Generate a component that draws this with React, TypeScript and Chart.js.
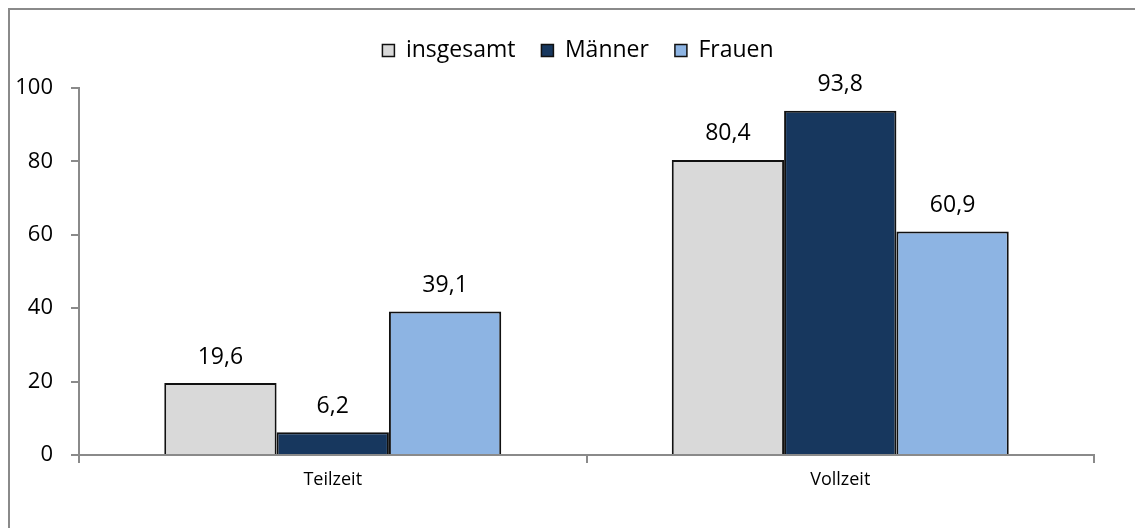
import React, { useEffect, useRef } from "react";
import { Chart, registerables } from "chart.js";

Chart.register(...registerables);

const categories = ["Teilzeit", "Vollzeit"];
const seriesNames = ["insgesamt", "Männer", "Frauen"];
const insgesamt = [19.6, 80.4];
const maenner = [6.2, 93.8];
const frauen = [39.1, 60.9];
const seriesColors = ["#D9D9D9", "#17375E", "#8DB4E3"];
const yTicks = [0, 20, 40, 60, 80, 100];

const FONT = "'Open Sans', sans-serif";
const AXIS = "#8a8a8a";

const valueLabels = {
  id: "valueLabels",
  afterDatasetsDraw(chart: any) {
    const ctx = chart.ctx;
    ctx.save();
    ctx.fillStyle = "#000";
    ctx.font = `23px ${FONT}`;
    ctx.textAlign = "center";
    ctx.textBaseline = "middle";
    chart.data.datasets.forEach((ds: any, i: number) => {
      const meta = chart.getDatasetMeta(i);
      meta.data.forEach((bar: any, j: number) => {
        const v = ds.data[j];
        ctx.fillText(String(v).replace(".", ","), bar.x, bar.y - 26);
      });
    });
    ctx.restore();
  },
};

const legendMargin = {
  id: "legendMargin",
  beforeInit(chart: any) {
    const lg = chart.legend;
    if (!lg) return;
    const orig = lg.fit;
    lg.fit = function () {
      orig.call(this);
      this.height += 16;
    };
  },
  afterLayout(chart: any) {
    const lg = chart.legend;
    if (!lg) return;
    lg.left += 31;
    lg.right += 31;
  },
};

export default function App() {
  const ref = useRef<HTMLCanvasElement | null>(null);
  useEffect(() => {
    if (!ref.current) return;
    const chart = new Chart(ref.current, {
      type: "bar",
      data: {
        labels: categories,
        datasets: [insgesamt, maenner, frauen].map((d, i) => ({
          label: seriesNames[i],
          data: d,
          backgroundColor: seriesColors[i],
          borderColor: "#111",
          borderWidth: 2,
          borderSkipped: "bottom",
          categoryPercentage: 0.664,
          barPercentage: 1,
        })),
      },
      options: {
        animation: false,
        responsive: false,
        layout: { padding: { top: 13, right: 41, left: 0, bottom: 0 } },
        plugins: {
          tooltip: { enabled: false },
          legend: {
            position: "top",
            labels: {
              boxWidth: 12,
              boxHeight: 12,
              padding: 26,
              color: "#000",
              font: { family: FONT, size: 23 },
              generateLabels: (c: any) =>
                c.data.datasets.map((ds: any, i: number) => ({
                  text: ds.label,
                  fillStyle: ds.backgroundColor,
                  strokeStyle: "#111",
                  lineWidth: 1.5,
                  datasetIndex: i,
                  fontColor: "#000",
                })),
            },
          },
        },
        scales: {
          x: {
            grid: {
              drawOnChartArea: false,
              offset: true,
              tickLength: 8,
              color: AXIS,
              lineWidth: 2,
            },
            border: { color: AXIS, width: 2 },
            ticks: { color: "#000", font: { family: FONT, size: 18 }, padding: 6 },
            afterFit: (s: any) => {
              s.height = 73;
            },
          },
          y: {
            min: 0,
            max: 100,
            afterBuildTicks: (s: any) => {
              s.ticks = yTicks.map((v) => ({ value: v }));
            },
            grid: {
              drawOnChartArea: false,
              tickLength: 8,
              color: AXIS,
              lineWidth: 2,
            },
            border: { color: AXIS, width: 2 },
            ticks: { color: "#000", font: { family: FONT, size: 22 }, padding: 18 },
            afterFit: (s: any) => {
              s.width = 79;
            },
          },
        },
      },
      plugins: [legendMargin, valueLabels],
    });
    return () => chart.destroy();
  }, []);
  return (
    <div style={{ position: "fixed", left: 0, top: 0, width: 1135, height: 528, background: "#fff" }}>
      <div
        style={{
          position: "absolute",
          left: 8,
          top: 8,
          width: 1127,
          height: 520,
          borderTop: "2px solid #8a8a8a",
          borderLeft: "2px solid #8a8a8a",
          boxSizing: "border-box",
        }}
      />
      <canvas ref={ref} width={1135} height={528} style={{ position: "absolute", left: 0, top: 0 }} />
    </div>
  );
}
